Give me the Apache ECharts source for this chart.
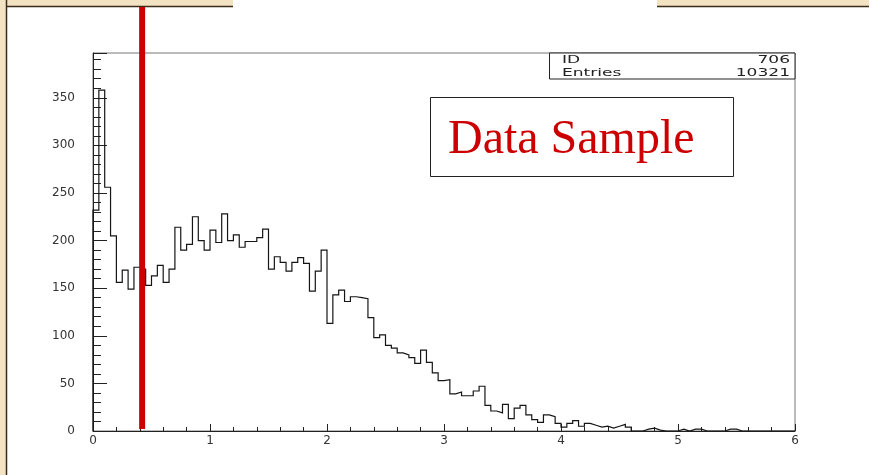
<!DOCTYPE html>
<html>
<head>
<meta charset="utf-8">
<script src="https://cdn.jsdelivr.net/npm/echarts@6/dist/echarts.min.js"></script>
<style>
  html, body { margin: 0; padding: 0; background: #ffffff; }
  #chart { width: 874px; height: 475px; }
</style>
</head>
<body>
<div id="chart"></div>
<script>
// Histogram binning: 120 bins of width 0.05 from 0 to 6
const binLow = 0;
const binHigh = 6;
const binWidth = 0.05;

// Bin contents
const counts = [
  232, 358, 256, 205, 156, 169, 149, 172, 170, 153,
  163, 174, 156, 170, 214, 190, 196, 225, 200, 190,
  211, 198, 228, 200, 206, 193, 199, 199, 203, 212,
  170, 183, 177, 168, 177, 182, 176, 147, 168, 190,
  113, 143, 148, 136, 141, 140, 139, 119,  98, 101,
   90,  87,  82,  80,  77,  71,  85,  72,  61,  53,
   54,  39,  41,  37,  37,  42,  47,  27,  21,  19,
   28,  13,  24,  27,  17,  12,   9,  17,  15,   8,
    4,   8,  11,   5,   8,   6,   4,   5,   3,   5,
    7,   4,   0,   0,   2,   3,   1,   0,   0,   0,
    2,   0,   2,   2,   0,   0,   0,   0,   2,   2,
    0,   0,   0,   0,   0,   0,   0,   0,   0,   0
];

// Axis ranges and tick spacing
const xRange = [0, 6];
const xStep = 1;
const yRange = [0, 397];
const yStep = 50;

// Cut position marked by the red bar
const cutValue = 0.42;

// Statistics box and caption texts
const statsNames = ['ID', 'Entries'];
const statsValues = ['706', '10321'];
const caption = 'Data Sample';

// Step outline: each bin contributes its left and right edge at its content
const stepData = [[binLow, 0]];
counts.forEach((c, i) => {
  const lo = binLow + i * binWidth;
  stepData.push([lo, c], [lo + binWidth, c]);
});

const chart = echarts.init(document.getElementById('chart'), null, { renderer: 'canvas' });

const axisColor = '#222';
const labelFont = { fontFamily: 'DejaVu Sans', fontSize: 12, color: '#333' };

chart.setOption({
  animation: false,
  backgroundColor: '#ffffff',
  grid: {
    left: 93, right: 79, top: 53, bottom: 44,
    show: true, borderColor: '#777', borderWidth: 1, backgroundColor: 'transparent'
  },
  xAxis: {
    type: 'value',
    min: xRange[0], max: xRange[1], interval: xStep,
    axisLine: { show: true, onZero: false, lineStyle: { color: axisColor, width: 1 } },
    axisTick: { show: true, inside: true, length: 7, lineStyle: { color: axisColor } },
    minorTick: { show: true, splitNumber: 5, length: 4, lineStyle: { color: axisColor } },
    splitLine: { show: false },
    axisLabel: Object.assign({ margin: 4 }, labelFont)
  },
  yAxis: {
    type: 'value',
    min: yRange[0], max: yRange[1], interval: yStep,
    axisLine: { show: true, onZero: false, lineStyle: { color: axisColor, width: 1 } },
    axisTick: { show: true, inside: true, length: 14, lineStyle: { color: axisColor } },
    minorTick: { show: true, splitNumber: 5, length: 8, lineStyle: { color: axisColor } },
    splitLine: { show: false },
    axisLabel: Object.assign({ margin: 18, showMaxLabel: false }, labelFont)
  },
  series: [{
    type: 'line',
    data: stepData,
    symbol: 'none',
    silent: true,
    sampling: null,
    lineStyle: { color: '#151515', width: 1.2, join: 'miter' }
  }]
});

// Overlay: page border, cut marker, caption box and statistics box
const origin = chart.convertToPixel({ gridIndex: 0 }, [xRange[0], yRange[0]]);
const topRight = chart.convertToPixel({ gridIndex: 0 }, [xRange[1], yRange[1]]);
const cutPx = chart.convertToPixel({ gridIndex: 0 }, [cutValue, 0]);

const beige = '#f3e3c2';
const border = '#3b2c1c';

const graphics = [
  // parchment edges
  { type: 'rect', z: 1, shape: { x: 0, y: 0, width: 6, height: 475 }, style: { fill: beige } },
  { type: 'rect', z: 1, shape: { x: 0, y: 0, width: 233, height: 6 }, style: { fill: beige } },
  { type: 'rect', z: 1, shape: { x: 657, y: 0, width: 212, height: 6 }, style: { fill: beige } },
  { type: 'line', z: 2, shape: { x1: 6.5, y1: 0, x2: 6.5, y2: 475 }, style: { stroke: border, lineWidth: 1.5 } },
  { type: 'line', z: 2, shape: { x1: 6, y1: 6.5, x2: 233, y2: 6.5 }, style: { stroke: border, lineWidth: 1.5 } },
  { type: 'line', z: 2, shape: { x1: 657, y1: 6.5, x2: 869, y2: 6.5 }, style: { stroke: border, lineWidth: 1.5 } },

  // cut marker
  { type: 'rect', z: 50, shape: { x: cutPx[0] - 3, y: 7, width: 6, height: origin[1] - 9 },
    style: { fill: '#cc0000' } },

  // caption box
  { type: 'rect', z: 40, shape: { x: 430.5, y: 97.5, width: 303, height: 79 },
    style: { fill: 'none', stroke: '#222', lineWidth: 1 } },
  { type: 'text', z: 41, x: 448, y: 140,
    style: { text: caption, fill: '#cc0000', font: '48px "Liberation Serif", "Times New Roman", serif',
             verticalAlign: 'middle', align: 'left' } },

  // statistics box
  { type: 'rect', z: 40, shape: { x: 549.5, y: topRight[1], width: topRight[0] - 549.5, height: 79 - topRight[1] },
    style: { fill: '#ffffff', stroke: '#222', lineWidth: 1 } }
];

statsNames.forEach((name, i) => {
  const yRow = 60.5 + i * 13;
  graphics.push({ type: 'text', z: 42, x: 562, y: yRow, scaleX: 1.55,
    style: { text: name, fill: '#222', font: '11px "DejaVu Sans"', verticalAlign: 'middle', align: 'left' } });
  graphics.push({ type: 'text', z: 42, x: 790, y: yRow, scaleX: 1.55,
    style: { text: statsValues[i], fill: '#222', font: '11px "DejaVu Sans"', verticalAlign: 'middle', align: 'right' } });
});

chart.setOption({ graphic: graphics });
</script>
</body>
</html>
